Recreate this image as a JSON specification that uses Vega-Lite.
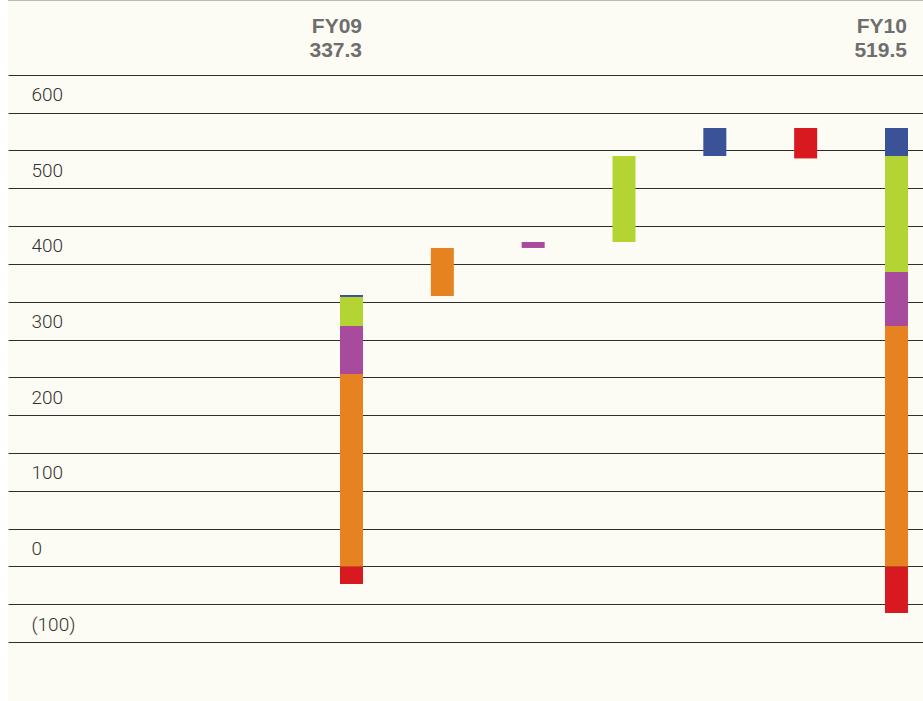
{
  "$schema": "https://vega.github.io/schema/vega-lite/v6.json",
  "width": 915,
  "height": 701,
  "autosize": {"type": "none"},
  "padding": {"left": 8, "top": 0, "right": 0, "bottom": 0},
  "background": "#ffffff",
  "config": {"view": {"fill": "#fdfcf4", "stroke": null}},
  "datasets": {
    "bars": [
      {"pos": 0, "bar": "FY09", "segment": "Segment E", "start": 0, "end": -23.3},
      {"pos": 0, "bar": "FY09", "segment": "Segment A", "start": 0, "end": 254.4},
      {"pos": 0, "bar": "FY09", "segment": "Segment B", "start": 254.4, "end": 317.9},
      {"pos": 0, "bar": "FY09", "segment": "Segment C", "start": 317.9, "end": 356.3},
      {"pos": 0, "bar": "FY09", "segment": "Segment D", "start": 356.3, "end": 358.9},
      {"pos": 1, "bar": "Segment A change", "segment": "Segment A", "start": 357.6, "end": 421.1},
      {"pos": 2, "bar": "Segment B change", "segment": "Segment B", "start": 421.1, "end": 429.0},
      {"pos": 3, "bar": "Segment C change", "segment": "Segment C", "start": 429.0, "end": 542.7},
      {"pos": 4, "bar": "Segment D change", "segment": "Segment D", "start": 542.7, "end": 579.7},
      {"pos": 5, "bar": "Segment E change", "segment": "Segment E", "start": 579.7, "end": 539.5},
      {"pos": 6, "bar": "FY10", "segment": "Segment E", "start": 0, "end": -61.6},
      {"pos": 6, "bar": "FY10", "segment": "Segment A", "start": 0, "end": 317.9},
      {"pos": 6, "bar": "FY10", "segment": "Segment B", "start": 317.9, "end": 389.2},
      {"pos": 6, "bar": "FY10", "segment": "Segment C", "start": 389.2, "end": 542.7},
      {"pos": 6, "bar": "FY10", "segment": "Segment D", "start": 542.7, "end": 579.7}
    ],
    "headers": [
      {"pos": 0, "label": "FY09\n337.3"},
      {"pos": 6, "label": "FY10\n519.5"}
    ]
  },
  "layer": [
    {
      "data": {"name": "bars"},
      "mark": {"type": "bar", "size": 23},
      "encoding": {
        "x": {
          "field": "pos",
          "type": "quantitative",
          "scale": {"domain": [-3.782, 6.292], "nice": false, "zero": false, "padding": 0},
          "axis": null
        },
        "y": {
          "field": "start",
          "type": "quantitative",
          "scale": {"domain": [-178, 749], "nice": false, "zero": false, "padding": 0},
          "axis": {
            "values": [-100, -50, 0, 50, 100, 150, 200, 250, 300, 350, 400, 450, 500, 550, 600, 650],
            "grid": true,
            "gridColor": "#2e2e2e",
            "gridWidth": 1,
            "domain": false,
            "ticks": false,
            "title": null,
            "labelOverlap": false,
            "labelFlush": false,
            "labelAlign": "left",
            "labelBaseline": "middle",
            "labelPadding": -23,
            "labelOffset": -18,
            "labelFont": "Roboto",
            "labelFontWeight": 300,
            "labelFontSize": 19,
            "labelColor": "#333333",
            "labelExpr": "datum.value % 100 != 0 ? '' : (datum.value < 0 ? '(' + abs(datum.value) + ')' : '' + datum.value)",
            "zindex": 0
          }
        },
        "y2": {"field": "end"},
        "color": {
          "field": "segment",
          "type": "nominal",
          "scale": {
            "domain": ["Segment A", "Segment B", "Segment C", "Segment D", "Segment E"],
            "range": ["#e6821f", "#a94b9c", "#b3d433", "#3a5298", "#d91920"]
          },
          "legend": null
        }
      }
    },
    {
      "data": {"values": [{"edge": 749}]},
      "mark": {"type": "rule", "color": "#bbbbbb", "strokeWidth": 2},
      "encoding": {"y": {"field": "edge", "type": "quantitative"}}
    },
    {
      "data": {"name": "headers"},
      "mark": {
        "type": "text",
        "align": "right",
        "baseline": "alphabetic",
        "dx": 10.5,
        "dy": 33,
        "lineHeight": 24,
        "lineBreak": "\n",
        "font": "Liberation Sans",
        "fontWeight": "bold",
        "fontSize": 21,
        "color": "#6e6e6e"
      },
      "encoding": {
        "x": {"field": "pos", "type": "quantitative"},
        "y": {"datum": 749, "type": "quantitative"},
        "text": {"field": "label"}
      }
    }
  ]
}
